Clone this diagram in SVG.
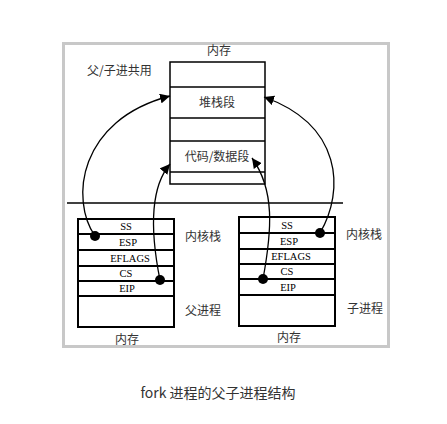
<svg xmlns="http://www.w3.org/2000/svg" width="447" height="424" viewBox="0 0 447 424">
<style>
.cn{font-family:"Noto Sans CJK SC","Noto Sans",sans-serif;font-size:12px;fill:#333}
.rg{font-family:"Liberation Serif","DejaVu Serif",serif;font-size:10.5px;fill:#000;text-anchor:middle}
.box{fill:#fff;stroke:#000;stroke-width:1.5}
.stk{fill:#fff;stroke:#000;stroke-width:2}
.cv{fill:none;stroke:#000;stroke-width:1.3}
.cap{font-family:"Noto Sans CJK SC","Noto Sans",sans-serif;font-size:14px;fill:#333;text-anchor:middle}
</style>
<defs>
<marker id="ah" viewBox="0 0 10 10" refX="10" refY="5" markerWidth="10" markerHeight="10" markerUnits="userSpaceOnUse" orient="auto">
<path d="M0,0 L10,5 L0,10 z" fill="#000"/>
</marker>
</defs>
<rect width="447" height="424" fill="#fff"/>
<rect x="63.5" y="43.5" width="325" height="303" fill="#fff" stroke="#c8c8c8" stroke-width="3"/>
<g id="shared-memory">
<text class="cn" x="219" y="55" text-anchor="middle">内存</text>
<text class="cn" x="87" y="75">父/子进共用</text>
<rect class="box" x="170" y="62" width="95" height="122"/>
<line class="box" x1="170" y1="87" x2="265" y2="87"/>
<line class="box" x1="170" y1="118" x2="265" y2="118"/>
<line class="box" x1="170" y1="141" x2="265" y2="141"/>
<line class="box" x1="170" y1="172" x2="265" y2="172"/>
<text class="cn" x="217" y="107" text-anchor="middle">堆栈段</text>
<text class="cn" x="217" y="161" text-anchor="middle">代码/数据段</text>
</g>
<line x1="67" y1="203" x2="343" y2="203" stroke="#000" stroke-width="1.5"/>
<g id="parent">
<rect class="stk" x="78" y="219" width="96" height="108"/>
<line class="stk" x1="78" y1="234" x2="174" y2="234"/>
<line class="stk" x1="78" y1="250" x2="174" y2="250"/>
<line class="stk" x1="78" y1="266" x2="174" y2="266"/>
<line class="stk" x1="78" y1="281" x2="174" y2="281"/>
<line class="stk" x1="78" y1="296" x2="174" y2="296"/>
<text class="rg" x="126" y="230">SS</text>
<text class="rg" x="128" y="246">ESP</text>
<text class="rg" x="130" y="262">EFLAGS</text>
<text class="rg" x="126" y="277">CS</text>
<text class="rg" x="127" y="292">EIP</text>
<text class="cn" x="185" y="241">内核栈</text>
<text class="cn" x="185" y="315">父进程</text>
<text class="cn" x="127" y="344" text-anchor="middle">内存</text>
</g>
<g id="child">
<rect class="stk" x="239" y="217" width="96" height="109"/>
<line class="stk" x1="239" y1="233" x2="335" y2="233"/>
<line class="stk" x1="239" y1="249" x2="335" y2="249"/>
<line class="stk" x1="239" y1="264" x2="335" y2="264"/>
<line class="stk" x1="239" y1="279" x2="335" y2="279"/>
<line class="stk" x1="239" y1="295" x2="335" y2="295"/>
<text class="rg" x="287" y="229">SS</text>
<text class="rg" x="289" y="245">ESP</text>
<text class="rg" x="291" y="260">EFLAGS</text>
<text class="rg" x="287" y="275">CS</text>
<text class="rg" x="288" y="291">EIP</text>
<text class="cn" x="346" y="239">内核栈</text>
<text class="cn" x="347" y="313">子进程</text>
<text class="cn" x="289" y="342" text-anchor="middle">内存</text>
</g>
<g id="connectors">
<path class="cv" d="M95,236 C70,200 78,120 170,96" marker-end="url(#ah)"/>
<path class="cv" d="M160,280 C152,240 148,190 170,164" marker-end="url(#ah)"/>
<path class="cv" d="M263,279 C272,230 275,190 252,158" marker-end="url(#ah)"/>
<path class="cv" d="M320,233 C345,190 342,125 264,97" marker-end="url(#ah)"/>
<circle cx="95" cy="236" r="5"/>
<circle cx="160" cy="280" r="5"/>
<circle cx="263" cy="279" r="5"/>
<circle cx="320" cy="233" r="5"/>
</g>
<text class="cap" x="218" y="398">fork 进程的父子进程结构</text>
</svg>
